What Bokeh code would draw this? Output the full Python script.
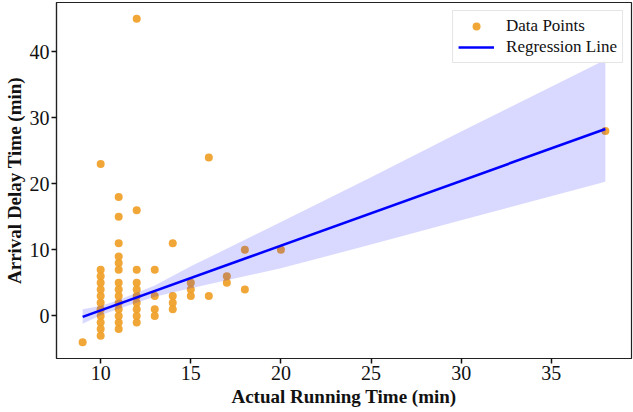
from bokeh.plotting import figure
from bokeh.models import Range1d, FixedTicker, Legend, LegendItem, ColumnDataSource
from bokeh.embed import file_html
from bokeh.resources import INLINE

# Actual running time (min) and arrival delay (min)
run_time = [9,
            10, 10, 10, 10, 10, 10, 10, 10, 10, 10, 10, 10,
            11, 11, 11, 11, 11, 11, 11, 11, 11, 11, 11, 11, 11, 11,
            12, 12, 12, 12, 12, 12, 12, 12, 12, 12,
            13, 13, 13, 13,
            14, 14, 14, 14,
            15, 15, 15,
            16, 16,
            17, 17,
            18, 18,
            20,
            38]
delay = [-4,
         23, 7, 6, 5, 4, 3, 2, 1, 0, -1, -2, -3,
         18, 15, 11, 9, 8, 7, 5, 4, 3, 2, 1, 0, -1, -2,
         45, 16, 7, 5, 4, 3, 2, 1, 0, -1,
         7, 3, 1, 0,
         11, 3, 2, 1,
         5, 4, 3,
         24, 3,
         6, 5,
         10, 4,
         10,
         28]

# Regression line and its confidence band
reg_x = [9, 38]
reg_y = [-0.15, 28.3]
band_x = [9, 10, 11, 12, 13, 15, 20, 25, 30, 38]
band_upper = [1.0, 1.5, 2.4, 3.5, 4.6, 7.5, 14.2, 21.0, 27.9, 38.8]
band_lower = [-1.2, 0.1, 1.1, 2.0, 2.9, 4.2, 7.2, 10.8, 14.5, 20.3]

x_ticks = [10, 15, 20, 25, 30, 35]
y_ticks = [0, 10, 20, 30, 40]

FONT = "Liberation Serif"

p = figure(width=633, height=412, output_backend="svg", toolbar_location=None,
           x_range=Range1d(7.55, 39.45), y_range=Range1d(-6.45, 47.45),
           min_border_left=56, min_border_right=2, min_border_top=2, min_border_bottom=54)

src = ColumnDataSource(dict(x=run_time, y=delay))
pts = p.scatter("x", "y", source=src, size=8, fill_color="#F0A026", fill_alpha=0.92,
                line_color=None)

band = p.varea(x=band_x, y1=band_lower, y2=band_upper, fill_color="#0000FF", fill_alpha=0.15)
line = p.line(reg_x, reg_y, line_color="#0000FF", line_width=2.6)

p.xgrid.visible = False
p.ygrid.visible = False
p.outline_line_color = "#222222"
p.outline_line_width = 1.2
p.background_fill_color = "white"
p.border_fill_color = "white"

for ax, ticks in ((p.xaxis[0], x_ticks), (p.yaxis[0], y_ticks)):
    ax.ticker = FixedTicker(ticks=ticks)
    ax.minor_tick_line_color = None
    ax.major_tick_in = 0
    ax.major_tick_out = 5
    ax.major_tick_line_width = 1.5
    ax.major_tick_line_color = "#111111"
    ax.axis_line_color = "#222222"
    ax.axis_line_width = 1.2
    ax.major_label_text_font = FONT
    ax.major_label_text_font_size = "20px"
    ax.major_label_text_color = "#111111"
    ax.axis_label_text_font = FONT
    ax.axis_label_text_font_size = "19px"
    ax.axis_label_text_font_style = "bold"
    ax.axis_label_text_color = "#111111"
    ax.major_label_standoff = 2

p.xaxis.axis_label = "Actual Running Time (min)"
p.yaxis.axis_label = "Arrival Delay Time (min)"
p.xaxis.axis_label_standoff = 3
p.yaxis.axis_label_standoff = 2

legend = Legend(items=[LegendItem(label="Data Points", renderers=[pts]),
                       LegendItem(label="Regression Line", renderers=[line])],
                location="top_right")
legend.label_text_font = FONT
legend.label_text_font_size = "17px"
legend.label_text_color = "#111111"
legend.border_line_color = "#cccccc"
legend.border_line_width = 1
legend.background_fill_alpha = 0.85
legend.margin = 8
legend.padding = 5
legend.spacing = 1
legend.glyph_width = 36
legend.label_standoff = 12
p.add_layout(legend)

open("out.html", "w").write(file_html(p, INLINE))
